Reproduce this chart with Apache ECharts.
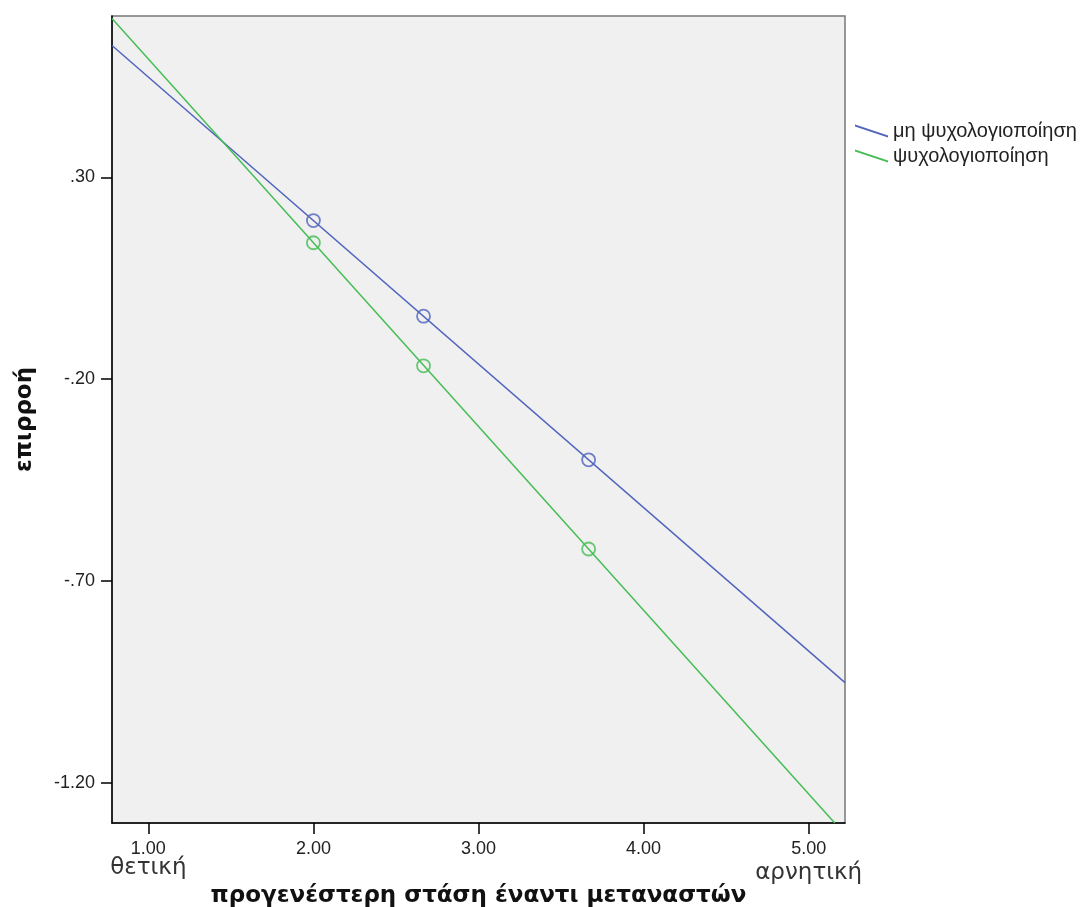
<!DOCTYPE html>
<html>
<head>
<meta charset="utf-8">
<script src="https://cdn.jsdelivr.net/npm/echarts@6/dist/echarts.min.js"></script>
<style>
  html, body { margin: 0; padding: 0; background: #fff; }
  #chart { width: 1081px; height: 907px; }
</style>
</head>
<body>
<div id="chart"></div>
<script>
// group names (legend)
const groupNames = ['μη ψυχολογιοποίηση', 'ψυχολογιοποίηση']
// observed points
const pointX = [2.0, 2.667, 3.667]
const blueY = [0.193, -0.044, -0.4]
const greenY = [0.138, -0.167, -0.621]
// fit lines, endpoints where they leave the plot
const blueFitX = [0.78, 5.22]
const blueFitY = [0.627, -0.952]
const greenFitX = [0.78, 5.158]
const greenFitY = [0.694, -1.3]
// ticks
const xTicks = [1, 2, 3, 4, 5]
const yTicks = [0.3, -0.2, -0.7, -1.2]
const xEndLabels = { 1: 'θετική', 5: 'αρνητική' }

const blue = '#5064bd'
const green = '#45bd55'
const zip = (xs, ys) => xs.map((x, i) => [x, ys[i]])

const chart = echarts.init(document.getElementById('chart'))
chart.setOption({
  animation: false,
  textStyle: { fontFamily: 'Liberation Sans, Arial, sans-serif' },
  grid: {
    left: 112, top: 16, width: 733, height: 807,
    outerBoundsMode: 'none',
    show: true, backgroundColor: '#f0f0f0',
    borderColor: '#777', borderWidth: 1.5
  },
  legend: {
    left: 850, top: 116, orient: 'vertical', itemGap: 5,
    itemWidth: 33, itemHeight: 13,
    icon: 'path://M0,0L33,11L33,13L0,2Z',
    data: groupNames,
    textStyle: { fontSize: 20, color: '#222', fontFamily: 'Liberation Sans' }
  },
  xAxis: {
    type: 'value', min: 0.78, max: 5.22,
    name: 'προγενέστερη στάση έναντι μεταναστών',
    nameLocation: 'middle', nameGap: 62, nameMoveOverlap: false,
    nameTextStyle: { fontSize: 23, fontWeight: 'bold', color: '#111', fontFamily: 'DejaVu Sans' },
    splitLine: { show: false },
    axisLine: { show: true, onZero: false, lineStyle: { color: '#000', width: 1.5 } },
    axisTick: { show: true, length: 11, customValues: xTicks, lineStyle: { color: '#000', width: 1.5 } },
    axisLabel: {
      customValues: xTicks, margin: 18, fontSize: 18, color: '#222', lineHeight: 16,
      formatter: v => {
        const s = v.toFixed(2)
        if (v === 1) return s + '\n{e|' + xEndLabels[v] + '}'
        if (v === 5) return s + '\n{f|' + xEndLabels[v] + '}'
        return s
      },
      rich: {
        e: { fontSize: 23, color: '#333', fontFamily: 'DejaVu Sans', lineHeight: 22 },
        f: { fontSize: 23, color: '#333', fontFamily: 'DejaVu Sans', lineHeight: 32 }
      }
    }
  },
  yAxis: {
    type: 'value', min: -1.3, max: 0.7,
    name: 'επιρροή', nameLocation: 'middle', nameGap: 75, nameRotate: 90, nameMoveOverlap: false,
    nameTextStyle: { fontSize: 23, fontWeight: 'bold', color: '#111', fontFamily: 'DejaVu Sans' },
    splitLine: { show: false },
    axisLine: { show: true, onZero: false, lineStyle: { color: '#000', width: 1.5 } },
    axisTick: { show: true, length: 11, customValues: yTicks, lineStyle: { color: '#000', width: 1.5 } },
    axisLabel: {
      customValues: yTicks, margin: 17, fontSize: 18, color: '#222',
      formatter: v => v.toFixed(2).replace(/^(-?)0\./, '$1.')
    }
  },
  series: [
    {
      name: groupNames[0], type: 'line', data: zip(blueFitX, blueFitY),
      showSymbol: false, silent: true, clip: true,
      itemStyle: { color: blue }, lineStyle: { color: blue, width: 1.5 }
    },
    {
      name: groupNames[1], type: 'line', data: zip(greenFitX, greenFitY),
      showSymbol: false, silent: true, clip: true,
      itemStyle: { color: green }, lineStyle: { color: green, width: 1.5 }
    },
    {
      name: 'points-0', type: 'scatter', data: zip(pointX, blueY),
      symbol: 'circle', symbolSize: 13, silent: true,
      itemStyle: { color: 'rgba(0,0,0,0)', borderColor: blue, borderWidth: 1.8 }
    },
    {
      name: 'points-1', type: 'scatter', data: zip(pointX, greenY),
      symbol: 'circle', symbolSize: 13, silent: true,
      itemStyle: { color: 'rgba(0,0,0,0)', borderColor: green, borderWidth: 1.8 }
    }
  ]
})
</script>
</body>
</html>
